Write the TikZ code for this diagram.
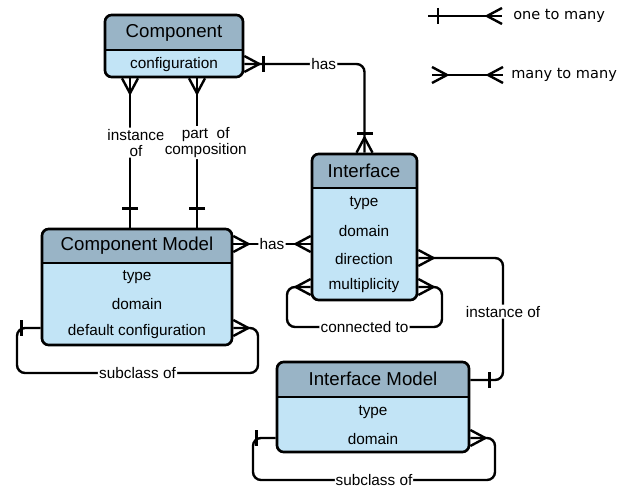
\documentclass[tikz,border=0pt]{standalone}
\usepackage{fontspec}
\setmainfont{Liberation Sans}
\newfontfamily\legendfont{DejaVu Sans}
\usetikzlibrary{fit}

\definecolor{headblue}{RGB}{153,180,198}
\definecolor{bodyblue}{RGB}{194,228,246}

\tikzset{
  x=0.75pt, y=-0.75pt,
  entity/.style={draw, line width=2pt, rounded corners=5pt, inner sep=0pt},
  conn/.style={line width=1.8pt, rounded corners=6pt},
  lbl/.style={fill=white, inner sep=1pt, font=\fontsize{11.5}{12}\selectfont, align=center},
  title/.style={font=\fontsize{14}{16}\selectfont},
  row/.style={font=\fontsize{11.5}{13}\selectfont},
  legend/.style={font=\legendfont\fontsize{10.9}{12}\selectfont, anchor=west, inner sep=0pt},
  crow/.pic={\draw[line width=1.8pt, line join=round] (0,-8) -- (-15,0) -- (0,8);},
  onebar/.pic={\draw[line width=1.8pt] (-19,-8) -- (-19,8);}
}

\begin{document}
\begin{tikzpicture}
\useasboundingbox (0,0) rectangle (634,488);

% entities
\foreach \n/\xa/\ya/\xb/\yb/\yd in {comp/105/15/243/77/50, cmod/42/229/232/345/263,
    iface/312/154/417/300/188, imod/277/362/469/452/397}{
  \begin{scope}
    \clip[rounded corners=5pt] (\xa,\ya) rectangle (\xb,\yb);
    \fill[bodyblue] (\xa,\ya) rectangle (\xb,\yb);
    \fill[headblue] (\xa,\ya) rectangle (\xb,\yd);
  \end{scope}
  \node[entity, fit={(\xa,\ya) (\xb,\yb)}] (\n) {};
  \draw[line width=2pt] (\xa,\yd) -- (\xb,\yd);
}

\node[title] (comp-t) at (174,33) {Component};
\node[row] (comp-r1) at (174,65) {configuration};

\node[title] (cmod-t) at (137,246) {Component Model};
\foreach \t/\y [count=\i] in {type/277, domain/304, default configuration/332}
  \node[row] (cmod-r\i) at (137,\y) {\t};

\node[title] (iface-t) at (364,171) {Interface};
\foreach \t/\y [count=\i] in {type/203, domain/231, direction/259, multiplicity/286}
  \node[row] (iface-r\i) at (364,\y) {\t};

\node[title] (imod-t) at (373,379) {Interface Model};
\foreach \t/\y [count=\i] in {type/412, domain/439}
  \node[row] (imod-r\i) at (373,\y) {\t};

% relations
\draw[conn] (comp.south -| 130,0) -- node[lbl, pos=0.43, xshift=4.5pt]{instance\\of} (cmod.north -| 130,0);
\pic[rotate=90] at (comp.south -| 130,0) {crow};
\pic[rotate=-90] at (cmod.north -| 130,0) {onebar};

\draw[conn] (comp.south -| 197,0) -- node[lbl, pos=0.43, xshift=6.5pt]{part~ of\\composition} (cmod.north -| 197,0);
\pic[rotate=90] at (comp.south -| 197,0) {crow};
\pic[rotate=-90] at (cmod.north -| 197,0) {onebar};

\draw[conn] (comp.east |- 0,64) -| node[lbl, pos=0.33]{has} (iface.north);
\pic[rotate=180] at (comp.east |- 0,64) {crow};
\pic[rotate=180] at (comp.east |- 0,64) {onebar};
\pic[rotate=-90] at (iface.north) {crow};
\pic[rotate=-90] at (iface.north) {onebar};

\draw[conn] (cmod.east |- 0,244) -- node[lbl]{has} (iface.west |- 0,244);
\pic[rotate=180] at (cmod.east |- 0,244) {crow};
\pic at (iface.west |- 0,244) {crow};

\draw[conn] (iface.west |- 0,287) -| (287,327) -- node[lbl]{connected to} (442,327) |- (iface.east |- 0,287);
\pic at (iface.west |- 0,287) {crow};
\pic[rotate=180] at (iface.east |- 0,287) {crow};

\draw[conn] (iface.east |- 0,258) -| node[lbl, pos=0.72]{instance of} (503,380) -- (imod.east |- 0,380);
\pic[rotate=180] at (iface.east |- 0,258) {crow};
\pic[rotate=180] at (imod.east |- 0,380) {onebar};

\draw[conn] (cmod.west |- 0,328) -| (17,373) -- node[lbl]{subclass of} (258,373) |- (cmod.east |- 0,328);
\pic at (cmod.west |- 0,328) {onebar};
\pic[rotate=180] at (cmod.east |- 0,328) {crow};

\draw[conn] (imod.west |- 0,438) -| (253,480) -- node[lbl, inner sep=0.5pt]{subclass of} (495,480) |- (imod.east |- 0,438);
\pic at (imod.west |- 0,438) {onebar};
\pic[rotate=180] at (imod.east |- 0,438) {crow};

% legend
\coordinate (one-a) at (428,16);
\coordinate (one-b) at (502,16);
\draw[line width=1.8pt] (one-a) -- (one-b);
\draw[line width=1.8pt] (438,8) -- (438,24);
\pic at (one-b) {crow};
\node[legend] (one-txt) at (513,16) {one to many};

\coordinate (many-a) at (432,75);
\coordinate (many-b) at (503,75);
\draw[line width=1.8pt] (many-a) -- (many-b);
\pic[rotate=180] at (many-a) {crow};
\pic at (many-b) {crow};
\node[legend] (many-txt) at (511,75) {many to many};

\end{tikzpicture}
\end{document}
